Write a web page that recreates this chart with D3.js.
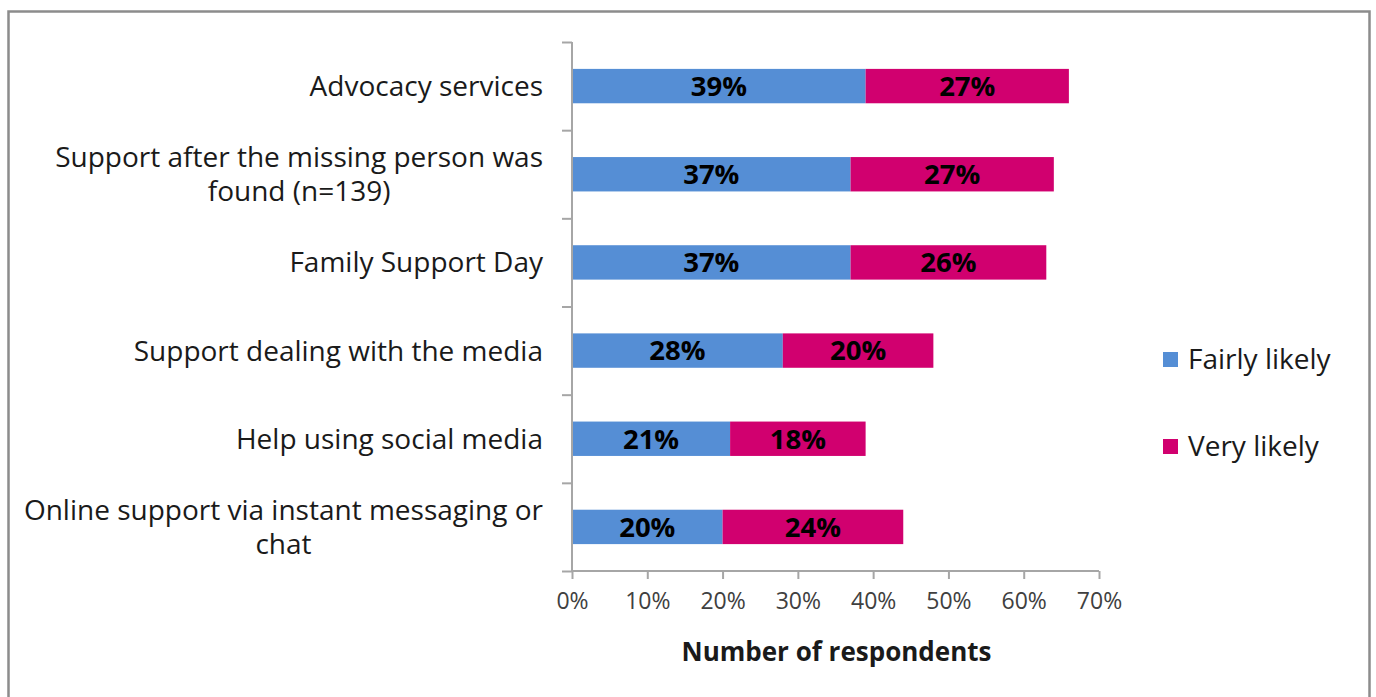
<!DOCTYPE html>
<html>
<head>
<meta charset="utf-8">
<script src="https://cdn.jsdelivr.net/npm/d3@7"></script>
<style>
  body { margin: 0; background: #fff; }
  svg { font-family: "Open Sans", sans-serif; }
</style>
</head>
<body>
<svg id="chart" width="1376" height="697"></svg>
<script>
// categories, top to bottom
var categories = [
    "Advocacy services",
    "Support after the missing person was|found (n=139)",
    "Family Support Day",
    "Support dealing with the media",
    "Help using social media",
    "Online support via instant messaging or|chat"
];
var fairly_likely = [39, 37, 37, 28, 21, 20];
var very_likely = [27, 27, 26, 20, 18, 24];
var series_names = ["Fairly likely", "Very likely"];
var x_ticks = [0, 10, 20, 30, 40, 50, 60, 70];

var colours = ["#558ed5", "#d1006f"];

var svg = d3.select("#chart");

// outer frame
svg.append("rect")
    .attr("x", 8.5).attr("y", 11.5)
    .attr("width", 1361).attr("height", 700)
    .attr("fill", "none")
    .attr("stroke", "#8c8c8c")
    .attr("stroke-width", 2.5);

var plot_l = 572, plot_r = 1099, plot_t = 42, plot_b = 571;

var x = d3.scaleLinear().domain([0, 70]).range([plot_l, plot_r]);
var y = d3.scaleBand().domain(d3.range(categories.length))
    .range([plot_t, plot_b]).paddingInner(0.61).paddingOuter(0.305);

// stacked records
var records = categories.map(function (c, i) {
    return { i: i, parts: [
        { i: i, s: 0, x0: 0, x1: fairly_likely[i], v: fairly_likely[i] },
        { i: i, s: 1, x0: fairly_likely[i], x1: fairly_likely[i] + very_likely[i], v: very_likely[i] }
    ] };
});

var rows = svg.selectAll(".row").data(records).enter().append("g");

rows.selectAll("rect").data(function (d) { return d.parts; }).enter().append("rect")
    .attr("x", function (p) { return x(p.x0); })
    .attr("y", function (p) { return y(p.i); })
    .attr("width", function (p) { return x(p.x1) - x(p.x0); })
    .attr("height", y.bandwidth())
    .attr("fill", function (p) { return colours[p.s]; });

rows.selectAll("text").data(function (d) { return d.parts; })
    .enter().append("text")
    .attr("x", function (p) { return (x(p.x0) + x(p.x1)) / 2; })
    .attr("y", function (p) { return y(p.i) + y.bandwidth() / 2; })
    .attr("dy", "0.36em")
    .attr("text-anchor", "middle")
    .attr("font-size", 27.5)
    .attr("font-weight", "bold")
    .attr("fill", "#000")
    .text(function (p) { return p.v + "%"; });

// x axis
var xAxis = svg.append("g")
    .attr("transform", "translate(0," + plot_b + ")")
    .call(d3.axisBottom(x).tickValues(x_ticks).tickSize(8).tickPadding(14)
        .tickFormat(function (d) { return d + "%"; }));
xAxis.select(".domain").attr("stroke", "#a6a6a6").attr("stroke-width", 2)
    .attr("d", "M" + plot_l + ",0H" + plot_r);
xAxis.selectAll(".tick line").attr("stroke", "#a6a6a6").attr("stroke-width", 2);
xAxis.selectAll(".tick text").attr("font-size", 23).attr("fill", "#404040")
    .attr("font-family", "'Open Sans', sans-serif");

// y axis line with ticks at band boundaries
var yAxisScale = d3.scaleLinear().domain([0, categories.length]).range([plot_t, plot_b]);
var yAxis = svg.append("g")
    .attr("transform", "translate(" + plot_l + ",0)")
    .call(d3.axisLeft(yAxisScale).ticks(categories.length).tickSize(10).tickFormat(""));
yAxis.select(".domain").attr("stroke", "#a6a6a6").attr("stroke-width", 2)
    .attr("d", "M0," + plot_t + "V" + plot_b);
yAxis.selectAll(".tick line").attr("stroke", "#a6a6a6").attr("stroke-width", 2);

// category labels
categories.forEach(function (c, i) {
    var lines = c.split("|");
    var cy = y(i) + y.bandwidth() / 2;
    var g = svg.append("g");
    var texts = lines.map(function (l, k) {
        return g.append("text")
            .attr("y", cy + (k - (lines.length - 1) / 2) * 34)
            .attr("dy", "0.36em")
            .attr("font-size", 28)
            .attr("fill", "#1a1a1a")
            .text(l);
    });
    var maxW = d3.max(texts, function (t) { return t.node().getComputedTextLength(); });
    var cx = 543 - maxW / 2;
    texts.forEach(function (t) { t.attr("x", cx).attr("text-anchor", "middle"); });
});

// axis title
svg.append("text")
    .attr("x", (plot_l + plot_r) / 2 + 1)
    .attr("y", 661)
    .attr("text-anchor", "middle")
    .attr("font-size", 26)
    .attr("font-weight", "bold")
    .attr("fill", "#1a1a1a")
    .text("Number of respondents");

// legend
var legend = svg.selectAll(".legend").data(series_names).enter().append("g")
    .attr("transform", function (d, i) { return "translate(1163," + (359 + i * 87) + ")"; });
legend.append("rect")
    .attr("x", 0).attr("y", -7).attr("width", 15).attr("height", 15)
    .attr("fill", function (d, i) { return colours[i]; });
legend.append("text")
    .attr("x", 25).attr("dy", "0.36em")
    .attr("font-size", 28)
    .attr("fill", "#1a1a1a")
    .text(function (d) { return d; });
</script>
</body>
</html>
